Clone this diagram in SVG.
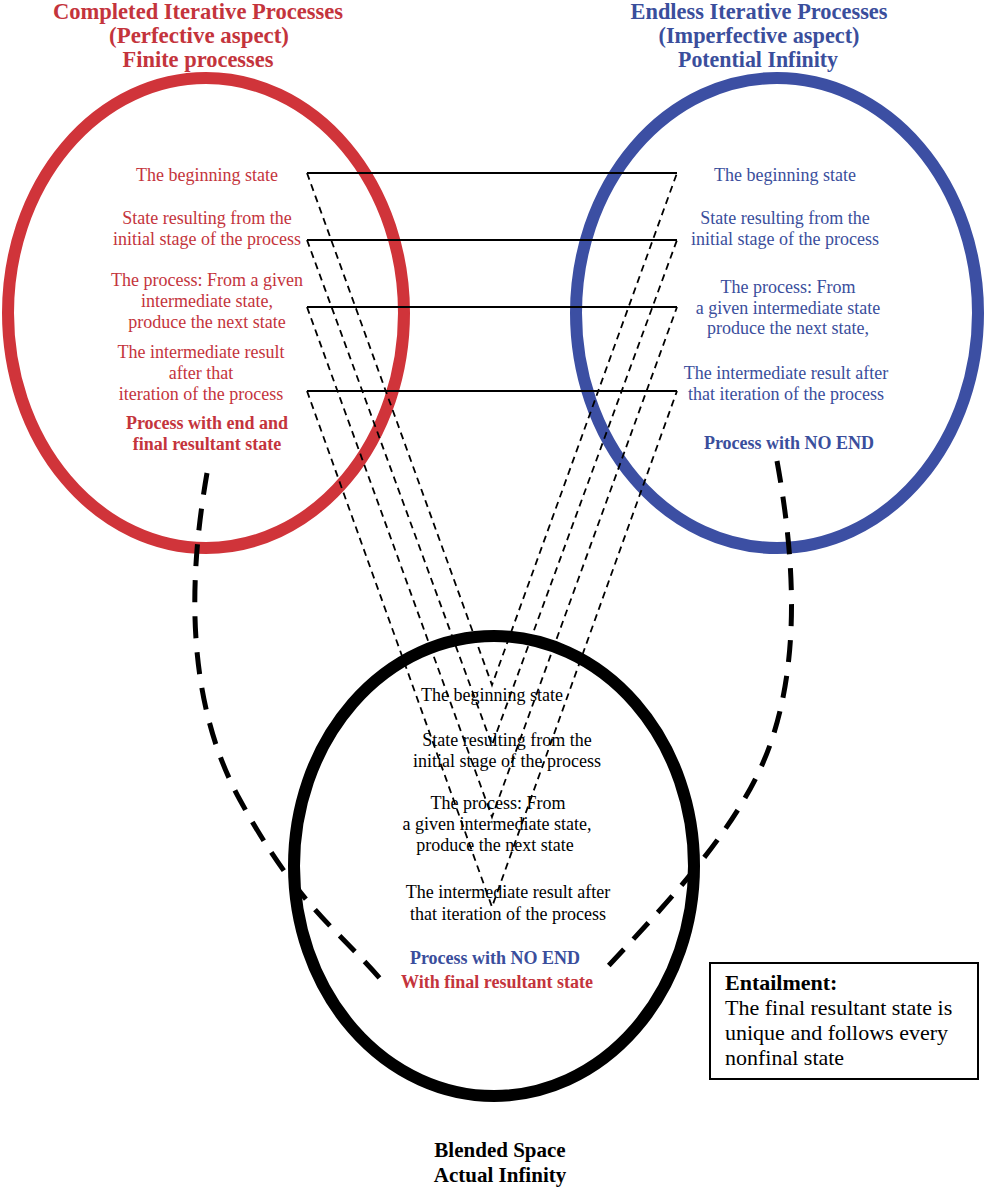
<svg xmlns="http://www.w3.org/2000/svg" width="984" height="1188" viewBox="0 0 984 1188">
<style>
text{font-family:"Liberation Serif","Times New Roman",serif;text-anchor:middle}
.r{fill:#C4343C}
.b{fill:#3A4E9C}
.k{fill:#000}
.t{font-size:24px;font-weight:bold}
.s{font-size:18px}
.bd{font-weight:bold}
.e{fill:none;stroke-width:12}
.h{stroke:#000;stroke-width:2;fill:none}
.d{stroke:#000;stroke-width:1.8;stroke-dasharray:7 5;fill:none}
.D{stroke:#000;stroke-width:5;stroke-dasharray:22 14;fill:none}
</style>
<rect width="984" height="1188" fill="#fff"/>
<g id="finite">
<ellipse class="e" cx="206" cy="313" rx="198" ry="235" stroke="#D0343A"/>
</g>
<g id="potential">
<ellipse class="e" cx="777" cy="313" rx="201" ry="235" stroke="#3C4FA3"/>
</g>
<g id="blended">
<ellipse class="e" cx="494" cy="866" rx="200" ry="230" stroke="#000"/>
</g>
<g id="connectors">
<path class="h" d="M307 173H677M307 240H677M307 307H677M307 391H677"/>
<path class="d" d="M307 173L492 685L677 173M307 240L492 745L677 240M307 307L492 817L677 307M307 391L492 907L677 391"/>
<path class="D" d="M207 473C192 560 180 690 240 800S340 930 388 988"/>
<path class="D" d="M777 461C795 560 800 660 770 745S660 910 600 975"/>
</g>
<g id="finite-text" class="r">
<text class="t" x="198" y="19" textLength="290" lengthAdjust="spacingAndGlyphs">Completed Iterative Processes</text>
<text class="t" x="199" y="43" textLength="180" lengthAdjust="spacingAndGlyphs">(Perfective aspect)</text>
<text class="t" x="198" y="67" textLength="151" lengthAdjust="spacingAndGlyphs">Finite processes</text>
<text class="s" x="207" y="181">The beginning state</text>
<text class="s" x="207" y="224">State resulting from the</text>
<text class="s" x="207" y="245">initial stage of the process</text>
<text class="s" x="207" y="286">The process: From a given</text>
<text class="s" x="207" y="307">intermediate state,</text>
<text class="s" x="207" y="328">produce the next state</text>
<text class="s" x="201" y="358">The intermediate result</text>
<text class="s" x="201" y="379">after that</text>
<text class="s" x="201" y="400">iteration of the process</text>
<text class="s bd" x="207" y="429">Process with end and</text>
<text class="s bd" x="207" y="450">final resultant state</text>
</g>
<g id="potential-text" class="b">
<text class="t" x="759" y="19" textLength="257" lengthAdjust="spacingAndGlyphs">Endless Iterative Processes</text>
<text class="t" x="759" y="43" textLength="201" lengthAdjust="spacingAndGlyphs">(Imperfective aspect)</text>
<text class="t" x="758" y="67" textLength="160" lengthAdjust="spacingAndGlyphs">Potential Infinity</text>
<text class="s" x="785" y="181">The beginning state</text>
<text class="s" x="785" y="224">State resulting from the</text>
<text class="s" x="785" y="245">initial stage of the process</text>
<text class="s" x="788" y="293">The process: From</text>
<text class="s" x="788" y="314">a given intermediate state</text>
<text class="s" x="788" y="334">produce the next state,</text>
<text class="s" x="786" y="379">The intermediate result after</text>
<text class="s" x="786" y="400">that iteration of the process</text>
<text class="s bd" x="789" y="449">Process with NO END</text>
</g>
<g id="blended-text">
<text class="s k" x="492" y="701">The beginning state</text>
<text class="s k" x="507" y="746">State resulting from the</text>
<text class="s k" x="507" y="767">initial stage of the process</text>
<text class="s k" x="498" y="809">The process: From</text>
<text class="s k" x="497" y="830">a given intermediate state,</text>
<text class="s k" x="495" y="851">produce the next state</text>
<text class="s k" x="508" y="898">The intermediate result after</text>
<text class="s k" x="508" y="920">that iteration of the process</text>
<text class="s bd b" x="495" y="964">Process with NO END</text>
<text class="s bd r" x="497" y="988">With final resultant state</text>
<text class="k bd" x="500" y="1157" style="font-size:21px">Blended Space</text>
<text class="k bd" x="500" y="1182" style="font-size:21px">Actual Infinity</text>
</g>
<g id="entailment">
<rect x="710" y="963" width="268" height="116" fill="#fff" stroke="#000" stroke-width="2"/>
<text class="k bd" x="725" y="990" style="font-size:22px;text-anchor:start">Entailment:</text>
<text class="k" x="725" y="1015" style="font-size:22px;text-anchor:start">The final resultant state is</text>
<text class="k" x="725" y="1040" style="font-size:22px;text-anchor:start">unique and follows every</text>
<text class="k" x="725" y="1065" style="font-size:22px;text-anchor:start">nonfinal state</text>
</g>
</svg>
